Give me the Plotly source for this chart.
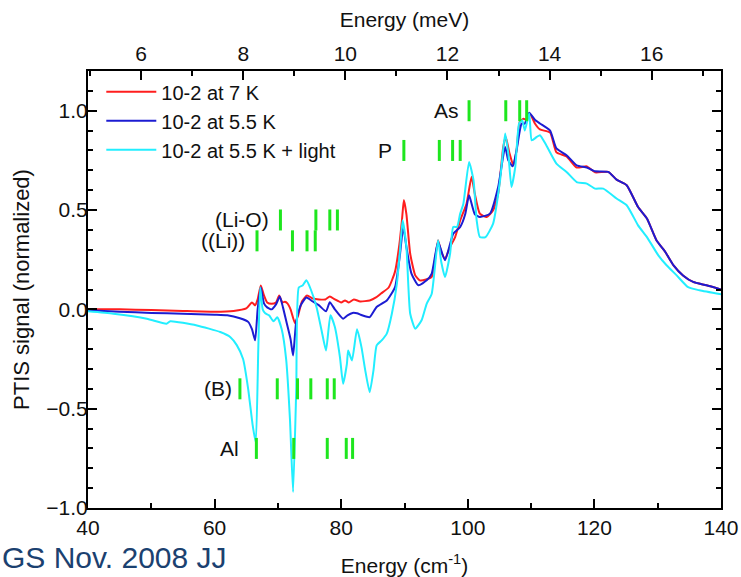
import plotly.graph_objects as go

# ---------------- data ----------------
CM_PER_MEV = 8.0655

red_x = [40, 45, 50, 55, 60, 63, 65, 65.9, 66.4, 66.8, 67.3, 67.8, 68.3, 69.0, 69.7, 70.2, 70.7, 71.1, 71.5,
         72.0, 72.7, 73.2, 73.8, 74.6, 75.5, 76.5, 77.5, 78.2, 79.0, 80.0, 80.6, 81.2, 82.0, 83.0, 84.5, 85.5,
         86.3, 87.5, 88.5, 89.2, 89.6, 89.9, 90.3, 90.9, 91.7, 92.4, 93.4, 94.3, 94.8, 95.3, 95.8, 96.4, 97.2,
         98.0, 98.8, 99.8, 100.6, 101.1, 101.9, 103.0, 104.0, 104.8, 105.6, 106.0, 106.6, 107.2, 107.7, 108.2,
         108.8, 109.3, 109.8, 110.6, 111.4, 113.0, 114.0, 115.6, 117.2, 118.8, 120.1, 122.2, 123.5, 125.1,
         126.9, 128.3, 129.8, 131.2, 132.5, 134.0, 135.6, 137.7, 140.0]
red_y = [0.0, 0.0, -0.003, -0.008, -0.012, -0.008, 0.005, 0.035, 0.02, 0.05, 0.12, 0.07, 0.035, 0.028, 0.035,
         0.07, 0.035, 0.038, 0.03, 0.0, -0.07, -0.03, 0.04, 0.07, 0.055, 0.05, 0.05, 0.065, 0.05, 0.035, 0.045,
         0.035, 0.05, 0.04, 0.045, 0.06, 0.08, 0.11, 0.19, 0.33, 0.45, 0.55, 0.48, 0.28, 0.171, 0.146, 0.15,
         0.163, 0.247, 0.348, 0.29, 0.255, 0.314, 0.364, 0.448, 0.532, 0.667, 0.583, 0.482, 0.465, 0.499, 0.583,
         0.818, 0.868, 0.784, 0.725, 0.80, 0.944, 0.96, 0.953, 0.986, 0.936, 0.906, 0.89, 0.79, 0.77, 0.714,
         0.72, 0.69, 0.692, 0.653, 0.625, 0.515, 0.457, 0.348, 0.289, 0.222, 0.171, 0.138, 0.121, 0.10]

blue_x = [40, 45, 50, 55, 60, 62, 64, 65.3, 65.9, 66.4, 66.8, 67.3, 67.8, 68.3, 69.0, 69.7, 70.3, 70.8, 71.4,
          72.0, 72.4, 72.9, 73.6, 74.5, 75.5, 76.5, 77.6, 78.2, 79.0, 80.3, 81.0, 81.8, 82.5, 83.3, 84.5, 85.6,
          87.2, 88.5, 89.3, 89.8, 90.3, 91.1, 92.2, 93.5, 94.3, 95.3, 96.4, 97.7, 98.8, 99.6, 100.2, 101.1,
          101.9, 103.5, 104.8, 105.9, 106.4, 107.1, 107.7, 108.5, 109.0, 109.7, 110.6, 111.4, 113.0, 114.0,
          115.6, 117.2, 118.8, 120.1, 122.2, 123.5, 125.1, 126.9, 128.3, 129.8, 131.2, 132.5, 134.0, 135.6,
          137.7, 140.0]
blue_y = [-0.005, -0.012, -0.018, -0.022, -0.027, -0.03, -0.045, -0.063, -0.1, -0.156, 0.0, 0.11, 0.03, 0.01,
          0.0, 0.025, 0.065, 0.01, -0.07, -0.15, -0.232, -0.06, 0.02, 0.06, 0.04, 0.02, -0.01, 0.036, 0.0,
          -0.047, -0.03, -0.018, -0.02, -0.03, -0.039, 0.012, 0.045, 0.112, 0.28, 0.415, 0.314, 0.18, 0.121,
          0.146, 0.18, 0.339, 0.247, 0.381, 0.415, 0.48, 0.574, 0.48, 0.465, 0.482, 0.616, 0.818, 0.75, 0.72,
          0.80, 0.935, 0.935, 0.99, 0.955, 0.936, 0.90, 0.81, 0.776, 0.725, 0.714, 0.695, 0.692, 0.653, 0.625,
          0.515, 0.457, 0.348, 0.289, 0.222, 0.171, 0.138, 0.121, 0.10]

cyan_x = [40, 44, 49.3, 52.4, 53.0, 57.2, 60.9, 62.5, 63.5, 64.5, 65.3, 66.0, 66.5, 66.9, 67.2, 67.6, 68.0, 68.6,
          69.3, 69.9, 70.6, 71.3, 71.9, 72.4, 72.9, 73.3, 73.9, 74.5, 75.2, 76.1, 76.9, 77.6, 78.3, 79.0, 79.8,
          80.3, 80.9, 81.1, 81.7, 82.5, 83.2, 83.8, 84.5, 85.1, 85.6, 86.4, 87.2, 88.0, 88.8, 89.3, 89.7, 90.3,
          90.9, 91.7, 92.7, 93.5, 94.3, 95.3, 95.8, 96.4, 97.2, 97.7, 98.3, 98.8, 99.3, 100.2, 100.9, 101.4,
          101.9, 102.8, 104.0, 105.1, 105.9, 106.4, 106.9, 107.5, 108.1, 108.6, 109.0, 109.7, 110.1, 110.9,
          111.4, 112.4, 114.0, 115.6, 117.2, 118.8, 120.1, 121.4, 123.5, 125.1, 126.9, 128.3, 130.1, 131.4,
          133.0, 134.8, 136.6, 140.0]
cyan_y = [-0.01, -0.022, -0.047, -0.072, -0.06, -0.081, -0.114, -0.14, -0.18, -0.25, -0.4, -0.58, -0.67, -0.2,
          0.11, 0.0, -0.02, -0.03, -0.06, -0.04, -0.1, -0.25, -0.55, -0.92, -0.4, 0.11, 0.12, 0.146, 0.1, 0.012,
          -0.106, -0.207, -0.03, -0.089, -0.24, -0.374, -0.274, -0.207, -0.257, -0.10, -0.19, -0.307, -0.417,
          -0.307, -0.181, -0.156, -0.122, -0.022, 0.13, 0.3, 0.448, 0.314, -0.022, -0.097, -0.055, 0.028, 0.079,
          0.348, 0.24, 0.163, 0.28, 0.415, 0.415, 0.482, 0.532, 0.742, 0.65, 0.448, 0.364, 0.364, 0.432, 0.65,
          0.885, 0.784, 0.616, 0.717, 0.935, 0.952, 0.90, 0.986, 0.851, 0.868, 0.877, 0.826, 0.734, 0.692,
          0.641, 0.633, 0.608, 0.608, 0.558, 0.524, 0.423, 0.364, 0.272, 0.222, 0.171, 0.112, 0.096, 0.076]

series_names = ["10-2 at 7 K", "10-2 at 5.5 K", "10-2 at 5.5 K + light"]
series_colors = ["#ff1e1e", "#1c1cd2", "#22eeff"]

# impurity line positions (cm^-1) and the level at which each row is drawn
impurity_labels = ["As", "P", "(Li-O)", "((Li))", "(B)", "Al"]
impurity_levels = [1.0, 0.8, 0.45, 0.345, -0.40, -0.70]
impurity_lines = [
    [100.2, 106.0, 108.2, 109.3],
    [89.9, 95.5, 97.6, 98.8],
    [70.4, 76.0, 78.2, 79.4],
    [66.7, 72.3, 74.6, 75.9],
    [64.0, 69.9, 73.1, 75.2, 77.8, 78.9],
    [66.6, 72.5, 77.8, 80.8, 81.8],
]
label_shift = [-8, -10, -9, -10, -6, -15]

top_ticks_mev = [5, 6, 7, 8, 9, 10, 11, 12, 13, 14, 15, 16, 17]

# ---------------- figure ----------------
FONT = "Liberation Sans, Arial, Helvetica, sans-serif"
fig = go.Figure()

for xs, ys, name, col in zip([red_x, blue_x, cyan_x], [red_y, blue_y, cyan_y], series_names, series_colors):
    fig.add_trace(go.Scatter(x=xs, y=ys, mode="lines", name=name,
                             line=dict(color=col, width=2, shape="spline", smoothing=0.5)))

for lab, lev, xs, sh in zip(impurity_labels, impurity_levels, impurity_lines, label_shift):
    fig.add_trace(go.Scatter(x=xs, y=[lev] * len(xs), mode="markers", showlegend=False, hoverinfo="skip",
                             marker=dict(symbol="line-ns", size=15, line=dict(color="#1ee61e", width=3))))
    fig.add_annotation(x=xs[0], y=lev, xref="x", yref="y", text=lab, showarrow=False,
                       xanchor="right", yanchor="middle", xshift=sh,
                       font=dict(family=FONT, size=21, color="#111111"))

# invisible trace to carry the top (meV) axis
fig.add_trace(go.Scatter(x=[v / CM_PER_MEV for v in [40, 140]], y=[0, 0], xaxis="x2", mode="markers",
                         marker=dict(opacity=0), showlegend=False, hoverinfo="skip"))

axis_common = dict(showline=True, linecolor="black", linewidth=2, ticks="inside", tickcolor="black",
                   tickwidth=1.5, ticklen=9, showgrid=False, zeroline=False, automargin=False,
                   tickfont=dict(family=FONT, size=21, color="#111111"))

fig.update_layout(
    width=741, height=577,
    margin=dict(l=88, r=20, t=71, b=69, autoexpand=False),
    paper_bgcolor="white", plot_bgcolor="white",
    font=dict(family=FONT, size=20, color="#111111"),
    xaxis=dict(range=[40, 140], dtick=20, tick0=40, mirror=True,
               minor=dict(dtick=10, ticks="inside", ticklen=5, tickcolor="black", tickwidth=1.5),
               title=dict(text="Energy (cm<sup>-1</sup>)", font=dict(family=FONT, size=21), standoff=22),
               **axis_common),
    xaxis2=dict(range=[40 / CM_PER_MEV, 140 / CM_PER_MEV], overlaying="x", side="top", anchor="y",
                tickvals=top_ticks_mev[1::2], ticktext=[str(v) for v in top_ticks_mev[1::2]],
                minor=dict(tickvals=top_ticks_mev, ticks="inside", ticklen=5, tickcolor="black", tickwidth=1.5),
                title=dict(text="Energy (meV)", font=dict(family=FONT, size=21), standoff=8),
                **axis_common),
    yaxis=dict(range=[-1.0, 1.2], dtick=0.5, tick0=0, tickformat=".1f", mirror="ticks",
               ticklabelstandoff=-6,
               minor=dict(dtick=0.1, ticks="inside", ticklen=5, tickcolor="black", tickwidth=1.5),
               title=dict(text="PTIS signal (normalized)", font=dict(family=FONT, size=22), standoff=11),
               **axis_common),
    legend=dict(x=0.021, y=0.997, xanchor="left", yanchor="top", bgcolor="rgba(0,0,0,0)",
                borderwidth=0, font=dict(family=FONT, size=20, color="#111111"), itemwidth=50,
                tracegroupgap=0),
    showlegend=True,
)

fig.add_annotation(x=-88 / 633, y=-(557 - 508) / 437, xref="paper", yref="paper", text="GS Nov. 2008 JJ",
                   showarrow=False, xanchor="left", yanchor="middle",
                   font=dict(family=FONT, size=30, color="#1b4170"))

fig.write_html("out.html")
